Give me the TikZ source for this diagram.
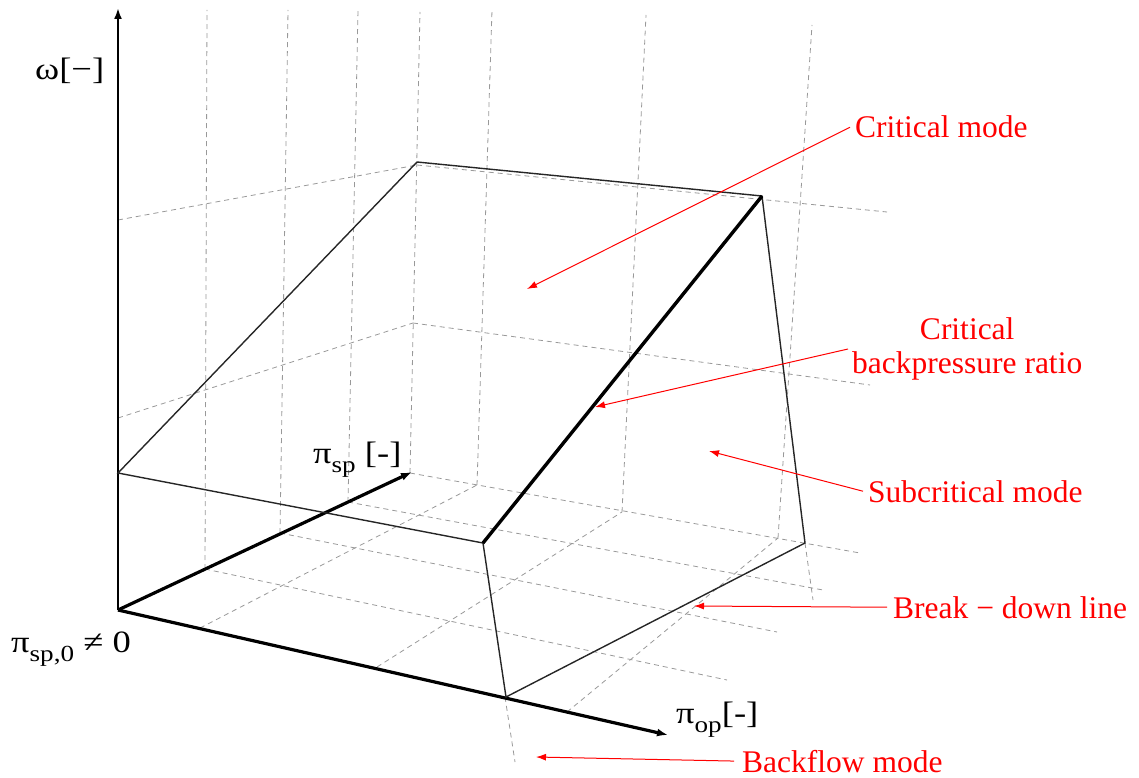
\documentclass[tikz,border=0pt]{standalone}
\usepackage{fontspec}
\setmainfont{Liberation Serif}
\newfontfamily\axfont[FakeStretch=1.18]{Liberation Serif}
\usetikzlibrary{arrows.meta}
\newcommand{\sbs}[1]{\raisebox{-0.3em}{\fontsize{23}{23}\selectfont #1}}
\tikzset{
  gridln/.style={draw=gray!80, dash pattern=on 5pt off 4pt, line width=0.8pt},
  boxln/.style={draw=black!85, line width=1.4pt},
  critln/.style={draw=black, line width=3.4pt},
  axisln/.style={draw=black, line width=#1, -{Latex[length=11pt,width=8pt]}},
  redarr/.style={draw=red, line width=1pt, -{Latex[length=10pt,width=7pt]}},
  axlabel/.style={font=\axfont\fontsize{31}{34}\selectfont, inner sep=0pt, anchor=base west},
  modelabel/.style={text=red, font=\fontsize{31.5}{34}\selectfont, inner sep=0pt, anchor=base west}
}

\begin{document}
\begin{tikzpicture}[x=1pt,y=-1pt]
  \useasboundingbox (0,0) rectangle (1139,778);

  % dashed grid
  \foreach \xa/\ya/\xb/\yb in {205/569/207/10, 280/533/288/10, 348/502/358/10,
      410/473/420/12, 477/485/492/10, 622/512/646/15, 778/538/812/25}
    \draw[gridln] (\xa,\ya) -- (\xb,\yb);
  \foreach \xa/\ya/\xb/\yb in {205/569/727/680, 280/533/777/632, 348/502/823/590,
      410/473/860/553, 200/628/477/485, 377/667/622/512, 567/712/778/538}
    \draw[gridln] (\xa,\ya) -- (\xb,\yb);
  \foreach \xa/\ya/\xb/\yb in {118/220/417/165, 118/418/413/323,
      417/165/887/212, 413/323/870/385, 505/697/515/762, 805/543/813/600}
    \draw[gridln] (\xa,\ya) -- (\xb,\yb);

  % axes
  \coordinate (O)     at (118,610);
  \coordinate (wEnd)  at (118,8);
  \coordinate (opEnd) at (668,735);
  \coordinate (spEnd) at (412,472);
  \draw[axisln=2.4pt] (O) -- (wEnd);
  \draw[axisln=3.2pt] (O) -- (opEnd);
  \draw[axisln=3.2pt] (O) -- (spEnd);

  % surface
  \coordinate (A) at (118,473);
  \coordinate (B) at (483,543);
  \coordinate (C) at (506,697);
  \coordinate (D) at (805,543);
  \coordinate (E) at (762,196);
  \coordinate (F) at (417,162);
  \draw[boxln] (A) -- (B) -- (C) -- (D) -- (E) -- (F) -- cycle;
  \draw[critln] (B) -- (E);

  % axis labels
  \node[axlabel] (wlab)  at (35,80)   {ω[−]};
  \node[axlabel] (splab) at (313,463) {π\sbs{sp} [-]};
  \node[axlabel] (sp0)   at (11,652)  {π\sbs{sp,0} ≠ 0};
  \node[axlabel] (oplab) at (676,723) {π\sbs{op}[-]};

  % modes
  \node[modelabel] (critm) at (855,138) {Critical mode};
  \node[modelabel, align=center, anchor=west] (cbr) at (852,349)
    {Critical\\backpressure ratio};
  \node[modelabel] (subm)  at (868,502) {Subcritical mode};
  \node[modelabel] (bdl)   at (893,618) {Break − down line};
  \node[modelabel] (bfm)   at (742,772) {Backflow mode};

  \coordinate (critTip) at (527,289);
  \coordinate (cbrTip)  at (595,407);
  \coordinate (subTip)  at (709,451);
  \coordinate (bdlTip)  at (694,606);
  \coordinate (bfmTip)  at (536,757);
  \draw[redarr] ([xshift=-5pt]critm.west) -- (critTip);
  \draw[redarr] ([xshift=-4pt]cbr.west) -- (cbrTip);
  \draw[redarr] ([xshift=-5pt]subm.west) -- (subTip);
  \draw[redarr] ([xshift=-6pt]bdl.west) -- (bdlTip);
  \draw[redarr] ([xshift=-8pt]bfm.west) -- (bfmTip);
\end{tikzpicture}
\end{document}
